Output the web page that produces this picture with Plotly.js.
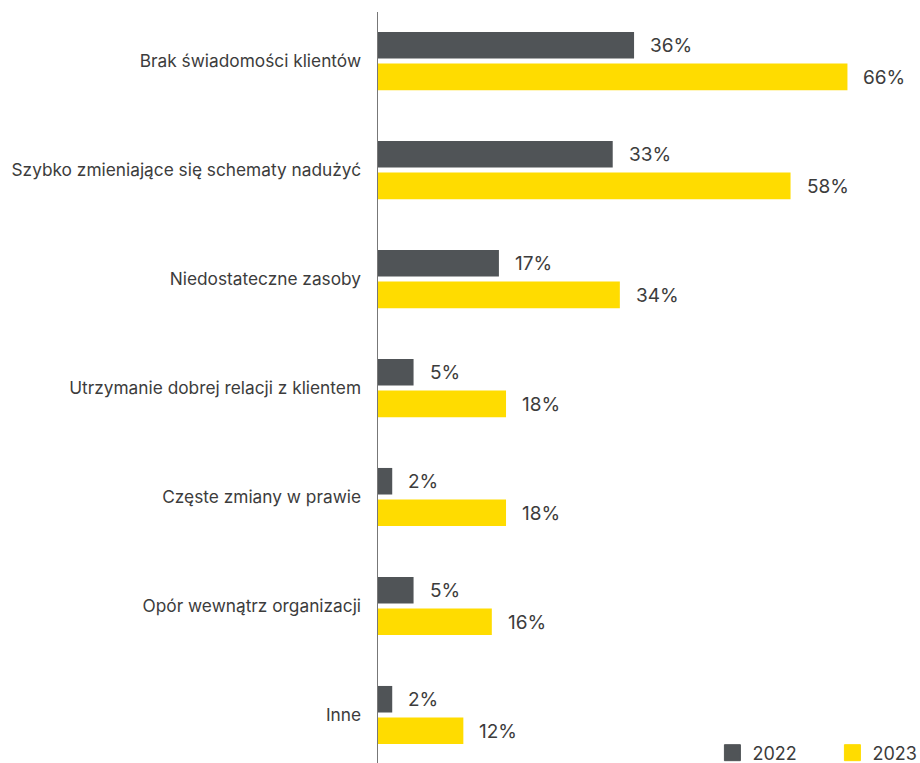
<!DOCTYPE html>
<html>
<head>
<meta charset="utf-8">
<script src="https://cdn.plot.ly/plotly-3.0.1.min.js"></script>
<style>html,body{margin:0;padding:0;background:#fff;}#chart{width:920px;height:763px;}</style>
</head>
<body>
<div id="chart"></div>
<script>
const categories = [
  "Brak świadomości klientów",
  "Szybko zmieniające się schematy nadużyć",
  "Niedostateczne zasoby",
  "Utrzymanie dobrej relacji z klientem",
  "Częste zmiany w prawie",
  "Opór wewnątrz organizacji",
  "Inne"
];
const values2022 = [36, 33, 17, 5, 2, 5, 2];
const values2023 = [66, 58, 34, 18, 18, 16, 12];
const seriesNames = ["2022", "2023"];
const colors = ["#505457", "#FFDC00"];

const FONT = "Inter, Liberation Sans, Arial, sans-serif";
const bars = [values2022, values2023].map((vals, i) => ({
  type: "bar",
  orientation: "h",
  name: seriesNames[i],
  x: vals,
  y: categories,
  marker: {color: colors[i]},
  showlegend: false,
  hoverinfo: "x+y"
}));
const legendTraces = seriesNames.map((n, i) => ({
  type: "scatter", mode: "markers", name: n,
  x: [null], y: [null],
  marker: {symbol: "square", size: 16, color: colors[i], line: {color: colors[i], width: 1}},
  showlegend: true
}));

const annotations = [];
[values2022, values2023].forEach((vals, i) => {
  vals.forEach((v, j) => {
    annotations.push({
      x: v, y: categories[j], xref: "x", yref: "y",
      text: v + "%", showarrow: false, xanchor: "left",
      xshift: 14, yshift: (i === 0 ? 16 : -16),
      font: {family: FONT, size: 19, color: "#3c3c3c"}
    });
  });
});

const layout = {
  width: 920, height: 763,
  margin: {l: 378, r: 0, t: 12, b: 0, autoexpand: false},
  paper_bgcolor: "#fff", plot_bgcolor: "#fff",
  barmode: "group",
  bargap: 0.42,
  bargroupgap: 0.16,
  font: {family: FONT, color: "#3c3c3c"},
  xaxis: {range: [0, 76.2], showgrid: false, zeroline: false, showticklabels: false, showline: false, fixedrange: true},
  yaxis: {
    type: "category",
    range: [6.44, -0.45],
    showgrid: false, zeroline: false,
    showline: true, linecolor: "#777", linewidth: 1.5,
    ticks: "outside", ticklen: 12, tickcolor: "rgba(0,0,0,0)",
    tickfont: {family: FONT, size: 17.3, color: "#3c3c3c"}
  },
  annotations: annotations,
  showlegend: true,
  legend: {
    orientation: "h", x: 0.617, xanchor: "left", y: -0.0113, yanchor: "bottom",
    entrywidth: 75,
    font: {family: FONT, size: 18, color: "#3c3c3c"},
    bgcolor: "rgba(0,0,0,0)"
  }
};

Plotly.newPlot("chart", bars.concat(legendTraces), layout, {displayModeBar: false, staticPlot: true});
</script>
</body>
</html>
